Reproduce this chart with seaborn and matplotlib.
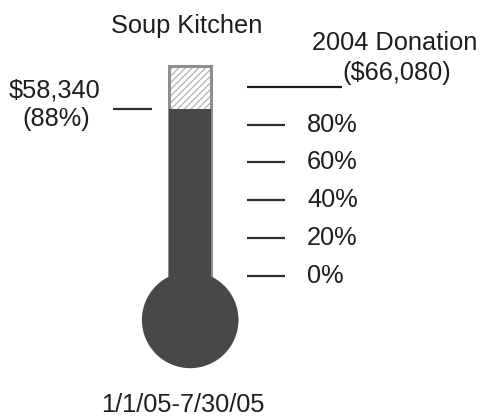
import matplotlib
matplotlib.use("Agg")
import matplotlib.pyplot as plt
from matplotlib.patches import Ellipse
import seaborn as sns
import pandas as pd

# ---- data ----
categories = ["Soup Kitchen"]
raised_pct = [88]
raised_amount = ["$58,340"]
goal_label = ["2004 Donation", "($66,080)"]
tick_levels = [80, 60, 40, 20, 0]
tick_labels = ["80%", "60%", "40%", "20%", "0%"]
goal_level = 100
tube_capacity = 111
period = "1/1/05-7/30/05"

sns.set_theme(style="white")
plt.rcParams["font.family"] = ["Liberation Sans", "DejaVu Sans"]
plt.rcParams["hatch.linewidth"] = 1.0

fig = plt.figure(figsize=(4.85, 4.19), dpi=100)
ax = fig.add_axes([0, 0, 1, 1])

df = pd.DataFrame({"cat": categories, "pct": raised_pct})
dark = "#484848"
FS = 18.3
TC = "#1e1e1e"

# tube background (hatched empty part)
sns.barplot(x=df["cat"], y=[tube_capacity], color="white", hatch="/////",
            edgecolor="#b8b8b8", linewidth=0, width=0.417, ax=ax, zorder=1)
# tube outline
sns.barplot(x=df["cat"], y=[tube_capacity], fill=False, edgecolor="#8f8f8f",
            linewidth=2.2, width=0.417, ax=ax, zorder=2)
# raised amount
sns.barplot(data=df, x="cat", y="pct", color=dark, saturation=1,
            edgecolor=dark, linewidth=0, width=0.417, ax=ax, zorder=3)

# bulb
ax.add_patch(Ellipse((0.002, -23.2), width=0.966, height=51.0,
                     facecolor=dark, edgecolor="none", zorder=3))

# pixel helpers -> data coords
def px(x):
    return (x - 190.0) / 100.0

def py(y):
    return (276.0 - y) / 1.893

ax.set_xlim(px(0), px(485))
ax.set_ylim(py(419), py(0))
ax.set_axis_off()

# scale ticks
ax.hlines(tick_levels, px(247), px(285), color="#2e2e2e", linewidth=1.6)
for lv, lab in zip(tick_levels, tick_labels):
    ax.text(px(307), lv, lab, ha="left", va="center", fontsize=FS, color=TC)

# goal line
ax.hlines([goal_level], px(247), px(342), color="#1e1e1e", linewidth=1.6)
ax.text(px(342), goal_level + 1, goal_label[1], ha="left", va="bottom",
        fontsize=FS, color=TC)
ax.text(px(312), py(50), goal_label[0], ha="left", va="baseline",
        fontsize=FS, color=TC)

# raised marker
ax.hlines(raised_pct, px(113), px(152), color="#2e2e2e", linewidth=1.6)
ax.text(px(55), py(97), raised_amount[0], ha="center", va="baseline",
        fontsize=FS, color=TC)
ax.text(px(56), py(126), f"({raised_pct[0]}%)", ha="center", va="baseline",
        fontsize=FS, color=TC)

# titles
ax.text(px(187), py(33), categories[0], ha="center", va="baseline",
        fontsize=FS, color=TC)
ax.text(px(183), py(412), period, ha="center", va="baseline",
        fontsize=FS, color=TC)

fig.savefig("out.png", dpi=100, facecolor="white")
